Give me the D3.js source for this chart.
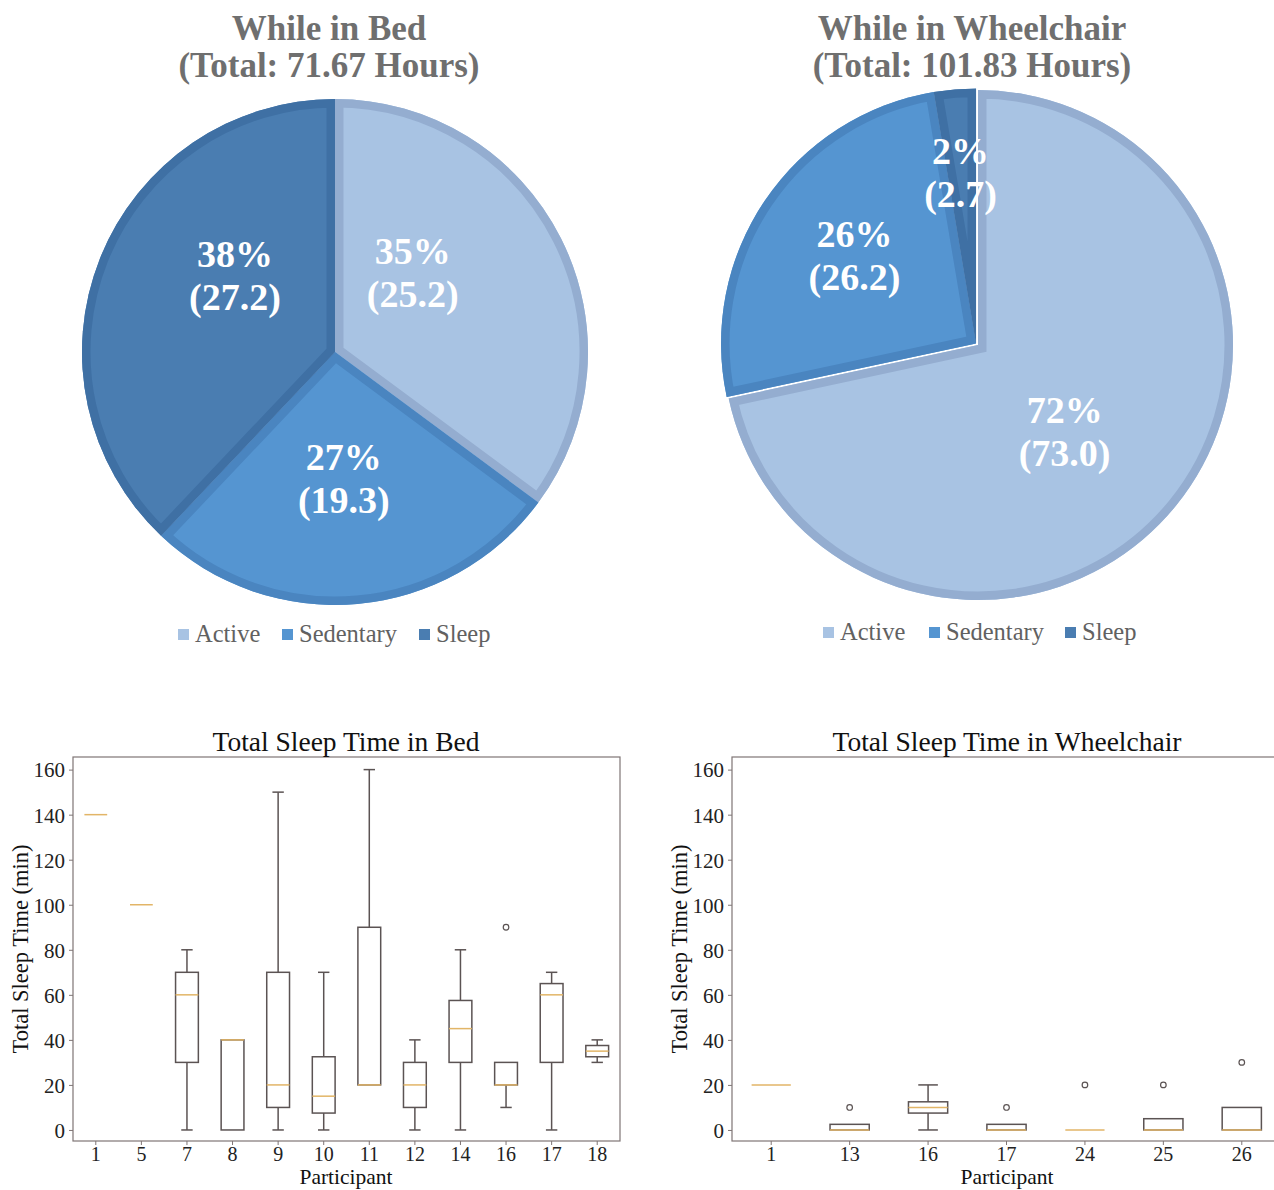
<!DOCTYPE html>
<html>
<head>
<meta charset="utf-8">
<script src="https://cdn.jsdelivr.net/npm/d3@7"></script>
</head>
<body style="margin:0;padding:0;background:#fff">
<svg id="chart" width="1274" height="1190" style="display:block"></svg>
<script>
// ---------------- DATA ----------------
const pieCategories = ["Active", "Sedentary", "Sleep"];
const bedHours = [25.2, 19.3, 27.2];
const bedPercents = ["35%", "27%", "38%"];
const chairHours = [73.0, 26.2, 2.7];
const chairPercents = ["72%", "26%", "2%"];
const bedTitle = ["While in Bed", "(Total: 71.67 Hours)"];
const chairTitle = ["While in Wheelchair", "(Total: 101.83 Hours)"];

const bedParticipants = ["1", "5", "7", "8", "9", "10", "11", "12", "14", "16", "17", "18"];
// [whiskerLow, Q1, median, Q3, whiskerHigh]
const bedStats = [
  [140, 140, 140, 140, 140],
  [100, 100, 100, 100, 100],
  [0, 30, 60, 70, 80],
  [0, 0, 40, 40, 40],
  [0, 10, 20, 70, 150],
  [0, 7.5, 15, 32.5, 70],
  [20, 20, 20, 90, 160],
  [0, 10, 20, 30, 40],
  [0, 30, 45, 57.5, 80],
  [10, 20, 20, 30, 30],
  [0, 30, 60, 65, 70],
  [30, 32.5, 35, 37.5, 40]
];
const bedFliers = [[], [], [], [], [], [], [], [], [], [90], [], []];

const chairParticipants = ["1", "13", "16", "17", "24", "25", "26"];
const chairStats = [
  [20, 20, 20, 20, 20],
  [0, 0, 0, 2.5, 2.5],
  [0, 7.5, 10, 12.5, 20],
  [0, 0, 0, 2.5, 2.5],
  [0, 0, 0, 0, 0],
  [0, 0, 0, 5, 5],
  [0, 0, 0, 10, 10]
];
const chairFliers = [[], [10], [], [10], [20], [20], [30]];

const yTicks = [0, 20, 40, 60, 80, 100, 120, 140, 160];

// ---------------- STYLE ----------------
const FONT = "'Liberation Serif'";
const sliceFill = ["#a8c3e3", "#5595d1", "#4a7db1"];
const sliceBorder = ["#94add0", "#4a85c0", "#3f70a4"];
const svg = d3.select("#chart");

function addText(parent, x, y, str, size, opts = {}) {
  const t = parent.append("text").attr("x", x).attr("y", y)
    .attr("font-family", FONT).attr("font-size", size)
    .attr("text-anchor", opts.anchor || "start")
    .attr("fill", opts.fill || "#111");
  if (opts.bold) t.attr("font-weight", "bold");
  if (opts.transform) t.attr("transform", opts.transform);
  t.text(str);
  return t;
}

// ---------------- PIES ----------------
function drawPie(id, cx, cy, r, values, percents, title, labelCfg, explode) {
  const pie = d3.pie().sort(null).value(d => d);
  const arcs = pie(values);
  const arc = d3.arc().innerRadius(0).outerRadius(r);
  const defs = svg.append("defs");
  arcs.forEach((a, i) => {
    const [ed, ea] = explode[i];
    const tx = cx + ed * Math.sin(ea * Math.PI / 180), ty = cy - ed * Math.cos(ea * Math.PI / 180);
    const cid = `clip-${id}-${i}`;
    defs.append("clipPath").attr("id", cid).append("path").attr("d", arc(a));
    const sg = svg.append("g").attr("transform", `translate(${tx},${ty})`);
    sg.append("path").attr("d", arc(a)).attr("fill", sliceFill[i]);
    sg.append("path").attr("d", arc(a))
      .attr("fill", "none").attr("stroke", sliceBorder[i]).attr("stroke-width", 17)
      .attr("stroke-linejoin", "miter")
      .attr("clip-path", `url(#${cid})`);
  });
  arcs.forEach((a, i) => {
    const mid = (a.startAngle + a.endAngle) / 2 + labelCfg[i][0] * Math.PI / 180;
    const rr = r * labelCfg[i][1];
    const x = cx + rr * Math.sin(mid), y = cy - rr * Math.cos(mid);
    addText(svg, x, y - 8, percents[i], 38, { anchor: "middle", fill: "#ffffff", bold: true });
    addText(svg, x, y + 35, `(${values[i].toFixed(1)})`, 38, { anchor: "middle", fill: "#ffffff", bold: true });
  });
  addText(svg, cx - 6, 40, title[0], 35, { anchor: "middle", fill: "#6f6f6f", bold: true });
  addText(svg, cx - 6, 77, title[1], 35, { anchor: "middle", fill: "#6f6f6f", bold: true });
}

drawPie("bed", 335, 352, 253, bedHours, bedPercents, bedTitle,
  [[-19, 0.44], [1, 0.50], [16, 0.50]], [[0, 0], [0, 0], [0, 0]]);
drawPie("chair", 978, 345, 255, chairHours, chairPercents, chairTitle,
  [[6, 0.48], [2, 0.60], [-1, 0.68]], [[0, 0], [2.5, 309], [2.5, 309]]);

function drawLegend(x0, y0, xs) {
  pieCategories.forEach((c, i) => {
    svg.append("rect").attr("x", x0 + xs[i]).attr("y", y0 - 13).attr("width", 11).attr("height", 11)
      .attr("fill", sliceFill[i]);
    addText(svg, x0 + xs[i] + 17, y0, c, 24.5, { fill: "#616161" });
  });
}
drawLegend(178, 642, [0, 104, 241]);
drawLegend(823, 640, [0, 106, 242]);

// ---------------- BOX PLOTS ----------------
function drawBox(x0, x1, yTop, yBot, cats, stats, fliers, title, titleX) {
  const y = d3.scaleLinear().domain([-4.9, 165.6]).range([yBot, yTop]);
  const x = d3.scaleBand().domain(cats).range([x0, x1]).padding(0);
  const bw = x.bandwidth();
  const boxW = bw * 0.5, capW = bw * 0.25;
  const g = svg.append("g");
  const stroke = "#5b5353";
  const medColor = "#e2b567";

  cats.forEach((c, i) => {
    const cx = x(c) + bw / 2;
    const [lo, q1, med, q3, hi] = stats[i];
    if (q3 > q1) {
      g.append("line").attr("x1", cx).attr("x2", cx).attr("y1", y(q3)).attr("y2", y(hi))
        .attr("stroke", stroke).attr("stroke-width", 1.5);
      g.append("line").attr("x1", cx).attr("x2", cx).attr("y1", y(q1)).attr("y2", y(lo))
        .attr("stroke", stroke).attr("stroke-width", 1.5);
      if (hi > q3) g.append("line").attr("x1", cx - capW / 2).attr("x2", cx + capW / 2)
        .attr("y1", y(hi)).attr("y2", y(hi)).attr("stroke", stroke).attr("stroke-width", 1.5);
      if (lo < q1) g.append("line").attr("x1", cx - capW / 2).attr("x2", cx + capW / 2)
        .attr("y1", y(lo)).attr("y2", y(lo)).attr("stroke", stroke).attr("stroke-width", 1.5);
      g.append("rect").attr("x", cx - boxW / 2).attr("y", y(q3)).attr("width", boxW)
        .attr("height", y(q1) - y(q3)).attr("fill", "none").attr("stroke", stroke).attr("stroke-width", 1.5);
    }
    g.append("line").attr("x1", cx - boxW / 2).attr("x2", cx + boxW / 2)
      .attr("y1", y(med)).attr("y2", y(med)).attr("stroke", medColor).attr("stroke-width", 1.5);
    fliers[i].forEach(f => {
      g.append("circle").attr("cx", cx).attr("cy", y(f)).attr("r", 2.8)
        .attr("fill", "none").attr("stroke", stroke).attr("stroke-width", 1.2);
    });
  });

  svg.append("rect").attr("x", x0).attr("y", yTop).attr("width", x1 - x0).attr("height", yBot - yTop)
    .attr("fill", "none").attr("stroke", "#7f7575").attr("stroke-width", 1.2);

  const ya = svg.append("g").attr("transform", `translate(${x0},0)`)
    .call(d3.axisLeft(y).tickValues(yTicks).tickSize(4).tickPadding(4));
  ya.attr("font-family", null).attr("font-size", null);
  ya.select(".domain").remove();
  ya.selectAll("line").attr("stroke", "#7f7575");
  ya.selectAll("text").attr("font-size", 21).attr("fill", "#222").attr("dy", "0.35em")
    .attr("font-family", FONT);

  const xa = svg.append("g").attr("transform", `translate(0,${yBot})`)
    .call(d3.axisBottom(x).tickSize(4).tickPadding(2));
  xa.attr("font-family", null).attr("font-size", null);
  xa.select(".domain").remove();
  xa.selectAll("line").attr("stroke", "#7f7575");
  xa.selectAll("text").attr("font-size", 20).attr("fill", "#222")
    .attr("font-family", FONT);

  addText(svg, titleX, 751, title, 27.5, { anchor: "middle" });
  addText(svg, titleX, 1184, "Participant", 21.5, { anchor: "middle" });
  addText(svg, 0, 0, "Total Sleep Time (min)", 22.5,
    { anchor: "middle", transform: `translate(${x0 - 45},${(yTop + yBot) / 2}) rotate(-90)` });
}

drawBox(73, 620, 757, 1141, bedParticipants, bedStats, bedFliers, "Total Sleep Time in Bed", 346);
drawBox(732, 1281, 757, 1141, chairParticipants, chairStats, chairFliers, "Total Sleep Time in Wheelchair", 1007);
</script>
</body>
</html>
